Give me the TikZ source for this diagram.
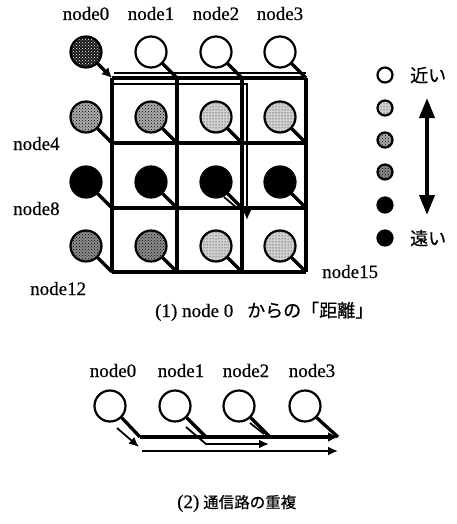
\documentclass[tikz,border=0pt]{standalone}
\usepackage{fontspec}
\setmainfont{Liberation Serif}
\newfontfamily\lblfont[FakeBold=0.5]{Liberation Serif}
\newfontfamily\cjk[FakeBold=0.6]{Noto Sans CJK JP}
\usetikzlibrary{arrows.meta,patterns}
\begin{document}
\begin{tikzpicture}[x=1pt,y=-1pt,
  pe/.style={circle, draw, line width=2.2pt, minimum size=31pt, inner sep=0pt},
  lg/.style={circle, draw, line width=2.2pt, minimum size=15pt, inner sep=0pt},
  fwhite/.style={fill=white},
  flight/.style={preaction={fill=black!18}, pattern=dots},
  fmed/.style={preaction={fill=black!32}, pattern=crosshatch dots},
  fdark/.style={preaction={fill=black!45}, pattern=crosshatch dots},
  fsrc/.style={preaction={fill=black!92}, pattern=crosshatch dots, pattern color=white},
  fblack/.style={fill=black},
  lbl/.style={font=\lblfont\fontsize{19}{20}\selectfont, inner sep=0pt},
  jlbl/.style={font=\cjk\fontsize{18}{19}\selectfont, inner sep=0pt},
  wire/.style={line width=3.3pt},
  route/.style={line width=1.8pt},
  thin/.style={line width=1.2pt}
]
\useasboundingbox (0,0) rectangle (457,524);

% ---------- (1) mesh ----------
\foreach \x/\n in {112/a,177/b,242/c,306/d}{
  \coordinate (gt\n) at (\x,78);
  \coordinate (gb\n) at (\x,272);
  \draw[wire] (gt\n) -- (gb\n);
}
\foreach \y/\n in {78/a,143/b,208/c,272/d}{
  \coordinate (gl\n) at (112,\y);
  \coordinate (gr\n) at (306,\y);
  \draw[wire] (gl\n) -- (gr\n);
}

\node[pe,fsrc]   (n0)  at (86,52)  {};
\node[pe,fwhite] (n1)  at (151,52) {};
\node[pe,fwhite] (n2)  at (216,52) {};
\node[pe,fwhite] (n3)  at (280,52) {};
\node[pe,fmed]   (n4)  at (86,117) {};
\node[pe,fmed]   (n5)  at (151,117) {};
\node[pe,flight] (n6)  at (216,117) {};
\node[pe,flight] (n7)  at (280,117) {};
\node[pe,fblack] (n8)  at (86,182) {};
\node[pe,fblack] (n9)  at (151,182) {};
\node[pe,fblack] (n10) at (216,182) {};
\node[pe,fblack] (n11) at (280,182) {};
\node[pe,fdark]  (n12) at (86,246) {};
\node[pe,fdark]  (n13) at (151,246) {};
\node[pe,flight] (n14) at (216,246) {};
\node[pe,flight] (n15) at (280,246) {};

\foreach \i/\x/\y in {0/112/78,1/177/78,2/242/78,3/306/78,
                      4/112/143,5/177/143,6/242/143,7/306/143,
                      8/112/208,9/177/208,10/242/208,11/306/208,
                      12/112/272,13/177/272,14/242/272,15/306/272}{
  \coordinate (k\i) at (\x,\y);
}
\draw[wire,-{Latex[length=10pt,width=10pt]}] (n0.-45) -- (k0);
\foreach \i in {1,...,15}{
  \draw[wire] (n\i.-45) -- (k\i);
}

% routes from node0
\coordinate (r1a) at (114,73);
\coordinate (r1b) at (306,73);
\draw[thin] (r1a) -- (r1b);
\coordinate (r2a) at (114,84);
\coordinate (r2b) at (247,84);
\coordinate (r2c) at (247,220);
\draw[route,-{Latex[length=10pt,width=9pt]}] (r2a) -- (r2b) -- (r2c);
\coordinate (r3a) at (224,197);
\coordinate (r3b) at (237,208);
\draw[route] (r3a) -- (r3b);

% labels
\node[lbl,anchor=base] (t0) at (86,20) {node0};
\node[lbl,anchor=base] (t1) at (151,20) {node1};
\node[lbl,anchor=base] (t2) at (216,20) {node2};
\node[lbl,anchor=base] (t3) at (280,20) {node3};
\node[lbl,anchor=base west] (t4) at (13,150) {node4};
\node[lbl,anchor=base west] (t8) at (13,215) {node8};
\node[lbl,anchor=base west] (t12) at (30,295) {node12};
\node[lbl,anchor=base west] (t15) at (322,278) {node15};

% caption 1
\node[lbl,anchor=base west] (c1a) at (155,317) {(1) node 0};
\node[jlbl,anchor=base west] (c1b) at (247,317) {からの「距離」};

% legend
\node[lg,fwhite] (l1) at (385,75) {};
\node[lg,flight] (l2) at (385,108) {};
\node[lg,fmed]   (l3) at (385,140) {};
\node[lg,fdark]  (l4) at (385,172) {};
\node[lg,fblack] (l5) at (385,205) {};
\node[lg,fblack] (l6) at (385,238) {};
\node[jlbl,anchor=base west] (lt1) at (410,82) {近い};
\node[jlbl,anchor=base west] (lt2) at (410,245) {遠い};
\coordinate (la1) at (427,98);
\coordinate (la2) at (427,215);
\draw[line width=4pt,{Triangle[length=20pt,width=15pt]}-{Triangle[length=20pt,width=15pt]}] (la1) -- (la2);

% ---------- (2) line ----------
\node[lbl,anchor=base] (s0) at (113,377) {node0};
\node[lbl,anchor=base] (s1) at (181,377) {node1};
\node[lbl,anchor=base] (s2) at (246,377) {node2};
\node[lbl,anchor=base] (s3) at (312,377) {node3};

\node[pe,fwhite] (q0) at (110,406) {};
\node[pe,fwhite] (q1) at (175,406) {};
\node[pe,fwhite] (q2) at (239,406) {};
\node[pe,fwhite] (q3) at (305,406) {};

\coordinate (d0) at (140,437);
\coordinate (d1) at (206,437);
\coordinate (d2) at (270,437);
\coordinate (d3) at (338,437);
\draw[wire] (q0.-45) -- (d0);
\draw[wire] (q1.-45) -- (d1);
\draw[wire] (q2.-45) -- (d2);
\draw[wire] (q3.-45) -- (d3);
\draw[wire,-{Latex[length=10pt,width=10pt]}] (d0) -- (d3);

% node1 -> node2
\coordinate (m0) at (186,427);
\coordinate (m1) at (206,444);
\coordinate (m2) at (269,444);
\draw[route,-{Latex[length=10pt,width=9pt]}] (m0) -- (m1) -- (m2);
\coordinate (m3) at (250,423);
\coordinate (m4) at (264,434);
\draw[route] (m3) -- (m4);

% node0 -> node3 (second)
\coordinate (b0) at (117,428);
\coordinate (b1) at (139,447);
\coordinate (b2) at (142,451);
\coordinate (b3) at (338,451);
\draw[route,-{Latex[length=10pt,width=9pt]}] (b0) -- (b1);
\draw[route,-{Latex[length=10pt,width=9pt]}] (b2) -- (b3);

% caption 2
\node[lbl,anchor=base west] (c2a) at (177,508) {(2)};
\node[jlbl,anchor=base west,font=\cjk\fontsize{15.5}{16}\selectfont] (c2b) at (203,508) {通信路の重複};
\end{tikzpicture}
\end{document}
